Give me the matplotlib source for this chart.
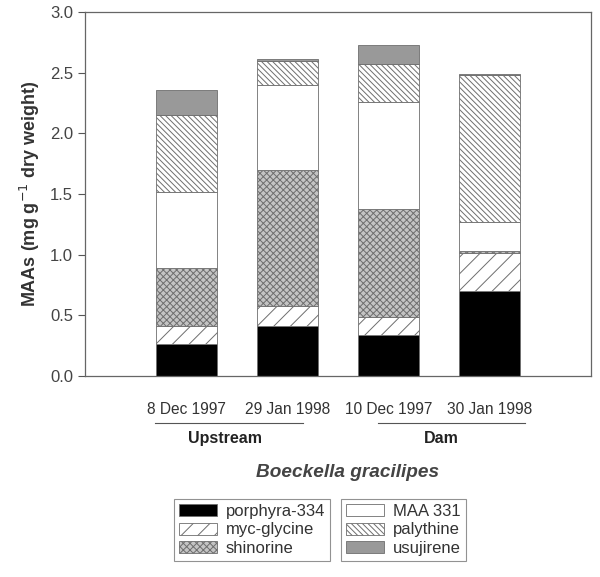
import numpy as np
import matplotlib.pyplot as plt
from matplotlib.patches import Patch

plt.rcParams['font.family'] = ['Liberation Sans', 'DejaVu Sans']
plt.rcParams['hatch.linewidth'] = 0.7

# %% Datos (mg g-1 dry weight)
sitios = ['8 Dec 1997', '29 Jan 1998', '10 Dec 1997', '30 Jan 1998']
porphyra = [0.26, 0.41, 0.34, 0.70]
myc_glycine = [0.15, 0.17, 0.15, 0.31]
shinorine = [0.48, 1.12, 0.89, 0.02]
maa331 = [0.63, 0.70, 0.88, 0.24]
palythine = [0.63, 0.20, 0.31, 1.21]
usujirene = [0.21, 0.01, 0.16, 0.01]

series = [porphyra, myc_glycine, shinorine, maa331, palythine, usujirene]
nombres = ['porphyra-334', 'myc-glycine', 'shinorine', 'MAA 331', 'palythine', 'usujirene']
caras = ['black', 'white', '#c4c4c4', 'white', 'white', '#999999']
tramas = ['', '//', 'xxxxx', '', '\\\\\\\\\\\\', '']

# %% Grafico
fig = plt.figure(figsize=(6.0, 5.77), dpi=100)
ax = fig.add_axes([0.1417, 0.3484, 0.8433, 0.6306])

x = np.arange(len(sitios))
base = np.zeros(len(sitios))
for vals, nom, fc, h in zip(series, nombres, caras, tramas):
    ax.bar(x, vals, 0.6, bottom=base, color=fc, hatch=h, edgecolor='#6e6e6e', linewidth=0.6, label=nom)
    base += np.array(vals)

ax.set_xlim(-1, 4)
ax.set_ylim(0, 3.0)
ax.set_yticks(np.arange(0, 3.01, 0.5))
ax.set_yticklabels([f'{v:.1f}' for v in np.arange(0, 3.01, 0.5)])
ax.set_xticks(x)
ax.set_xticklabels(sitios)
ax.tick_params(axis='x', length=0, pad=19, labelsize=11.2, labelcolor='#333333')
ax.tick_params(axis='y', length=5, width=0.8, color='#555555', labelsize=12, labelcolor='#444444')
for s in ax.spines.values():
    s.set_color('#666666')
    s.set_linewidth(0.9)
ax.set_ylabel('MAAs (mg g$^{-1}$ dry weight)', fontsize=13, fontweight='bold', color='#333333', labelpad=6)

# lineas de grupo
tr = ax.get_xaxis_transform()
ax.plot([-0.31, 1.15], [-0.129, -0.129], color='#555555', lw=0.8, transform=tr, clip_on=False)
ax.plot([1.90, 3.35], [-0.129, -0.129], color='#555555', lw=0.8, transform=tr, clip_on=False)
ax.text(0.38, -0.173, 'Upstream', transform=tr, ha='center', va='center', fontsize=11.5, fontweight='bold', color='#222222')
ax.text(2.52, -0.173, 'Dam', transform=tr, ha='center', va='center', fontsize=11.5, fontweight='bold', color='#222222')
ax.text(1.59, -0.266, 'Boeckella gracilipes', transform=tr, ha='center', va='center', fontsize=13.7,
        fontweight='bold', fontstyle='italic', color='#444444')

# leyendas
handles = [Patch(facecolor=fc, hatch=h, edgecolor='#6e6e6e', linewidth=0.6, label=nom)
           for nom, fc, h in zip(nombres, caras, tramas)]
kw = dict(loc='center', fontsize=12, frameon=True, fancybox=False, edgecolor='#777777',
          handlelength=2.3, handleheight=0.75, labelspacing=0.2, borderpad=0.3, handletextpad=0.55,
          borderaxespad=0)
leg1 = fig.legend(handles=handles[:3], bbox_to_anchor=(0.42, 0.0815), **kw)
leg2 = fig.legend(handles=handles[3:], bbox_to_anchor=(0.6725, 0.0815), **kw)
for lg in (leg1, leg2):
    lg.get_frame().set_linewidth(0.8)
    for t in lg.get_texts():
        t.set_color('#333333')

fig.savefig('out.png', dpi=100)
